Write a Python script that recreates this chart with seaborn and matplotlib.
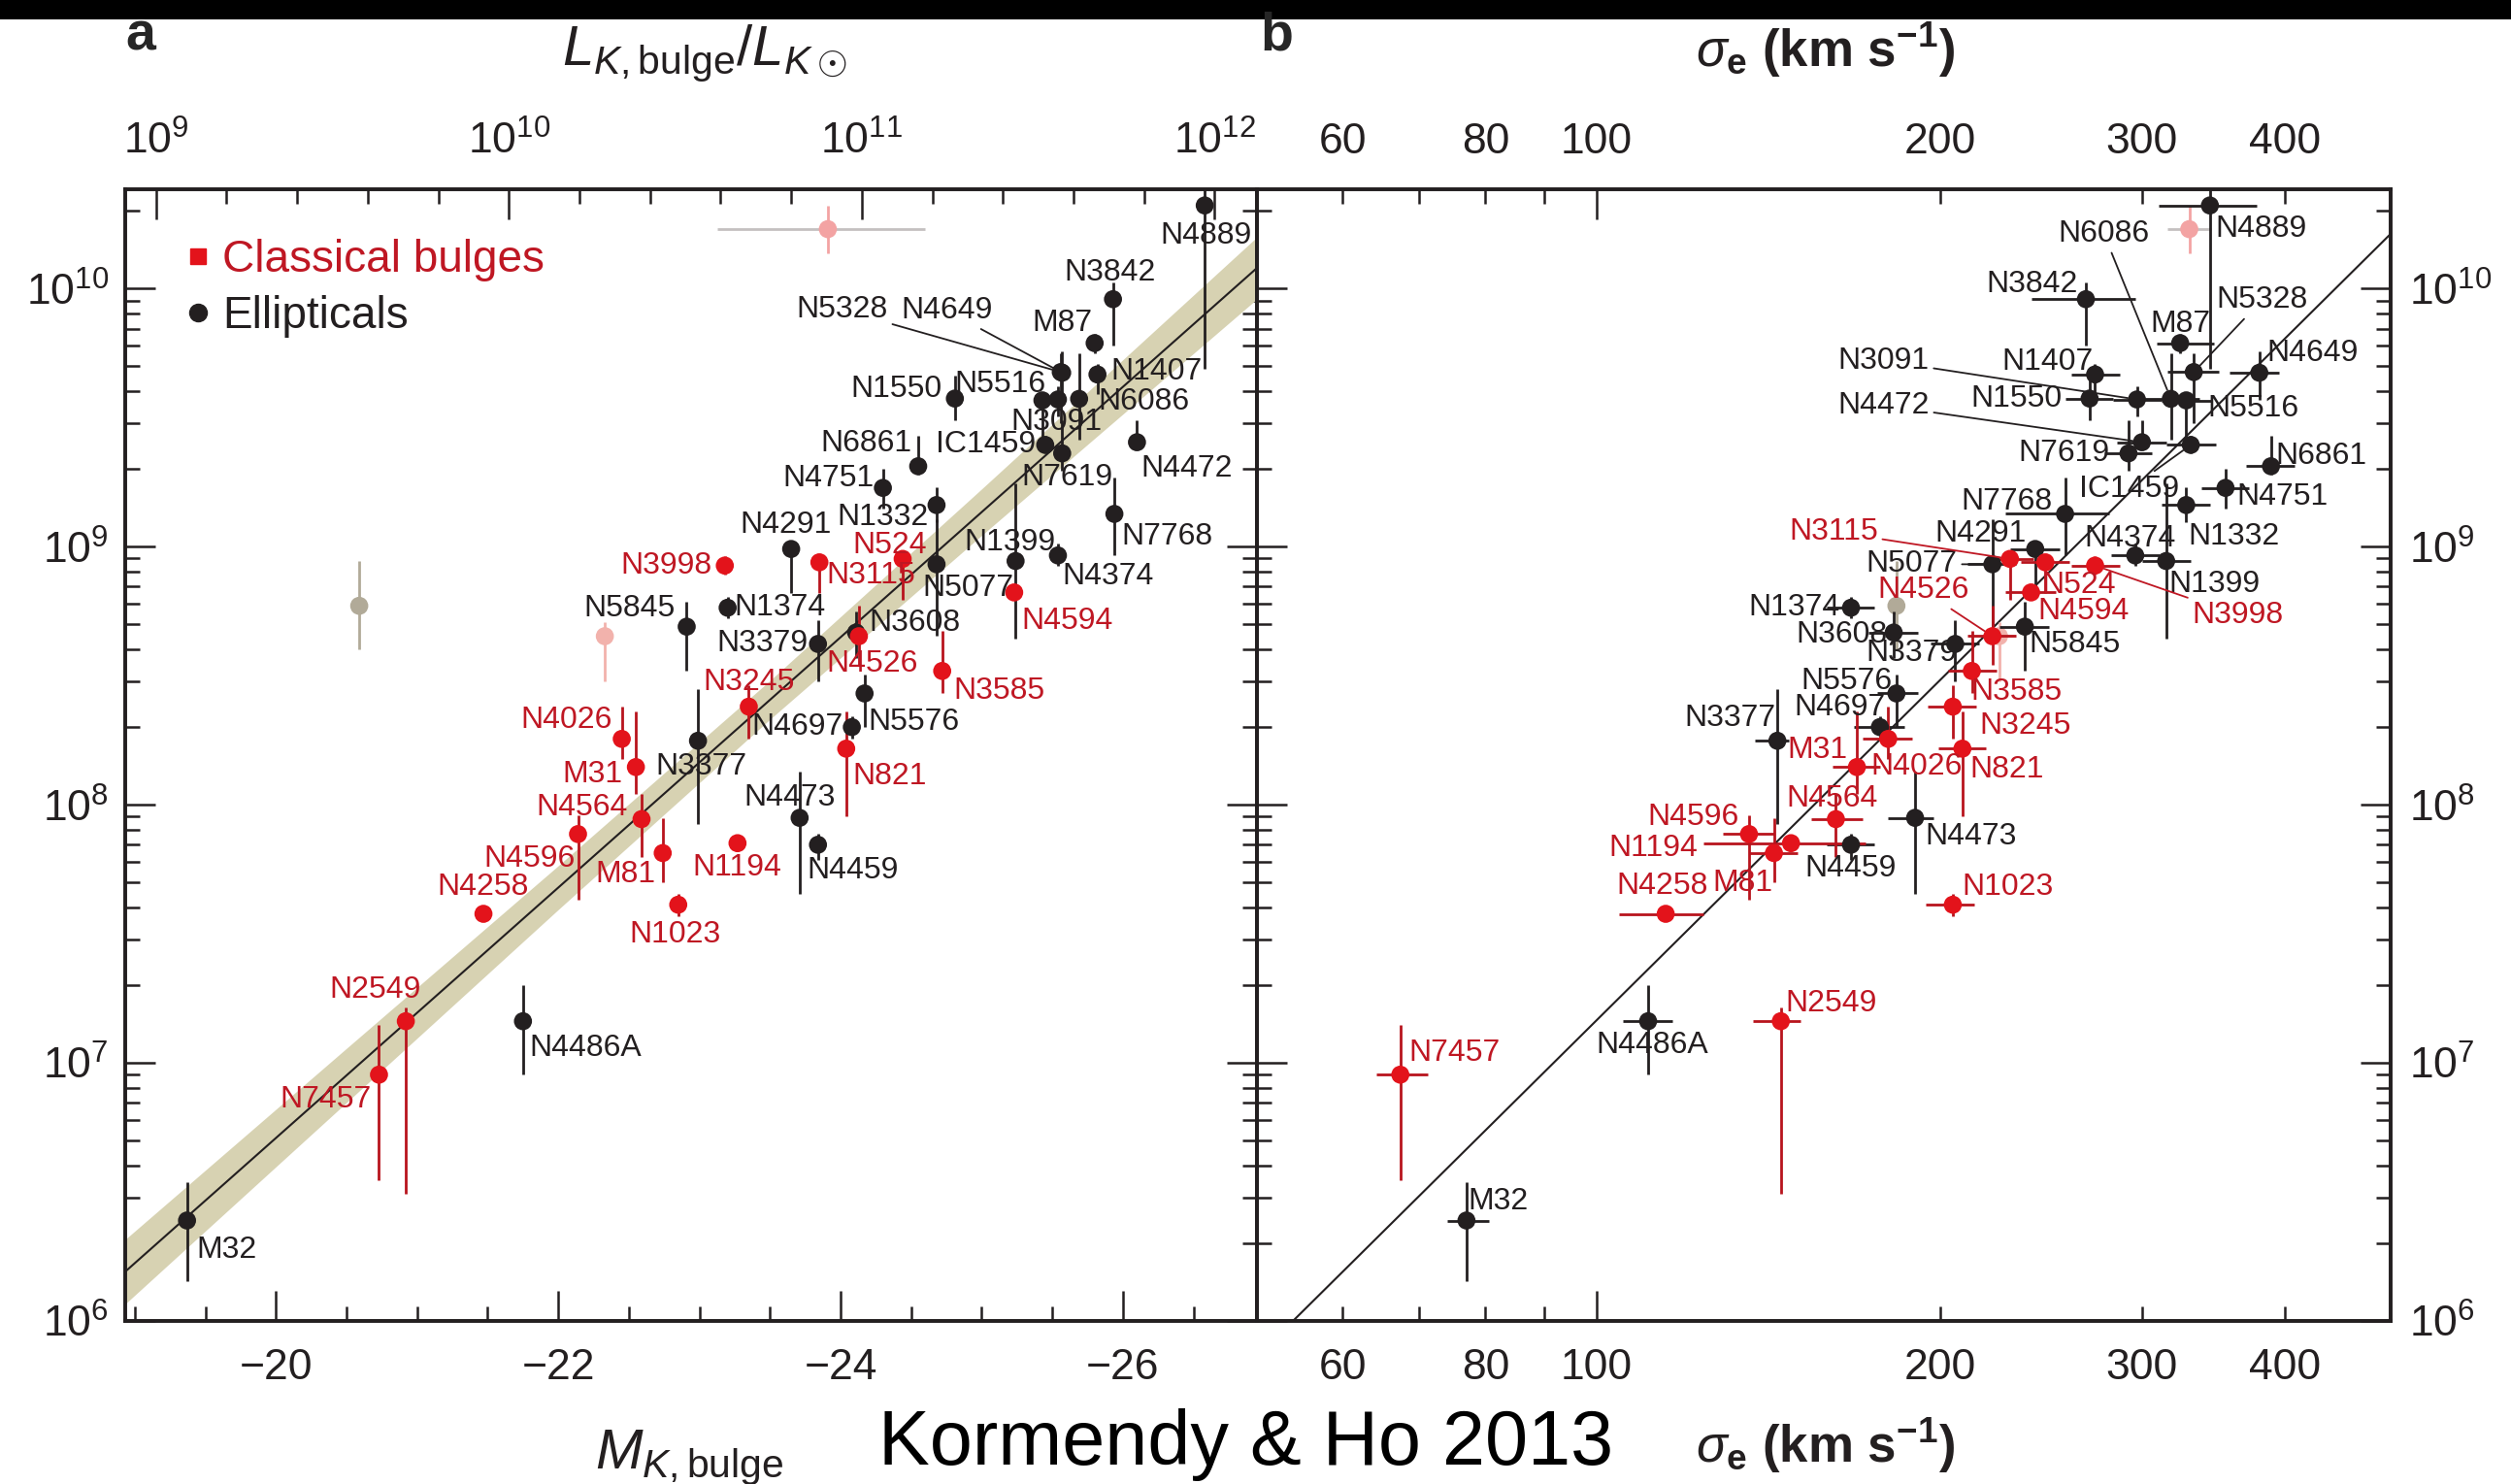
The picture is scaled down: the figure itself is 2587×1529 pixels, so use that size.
import numpy as np
import pandas as pd
import matplotlib
matplotlib.use('Agg')
import matplotlib.pyplot as plt
import seaborn as sns
from matplotlib import font_manager as fm
from matplotlib.lines import Line2D
from matplotlib.patches import Rectangle
from matplotlib.ticker import FixedLocator, FixedFormatter, NullFormatter, LogLocator

# ------------------------------------------------------------------ data
names = ['M32', 'N4486A', 'N4889', 'N3842', 'M87', 'N1407', 'N5328', 'N4649', 'N5516', 'N3091',
         'N6086', 'N7619', 'IC1459', 'N4472', 'N1550', 'N6861', 'N4751', 'N1332', 'N4291', 'N5077',
         'N1399', 'N4374', 'N7768', 'N5845', 'N1374', 'N3379', 'N3608', 'N5576', 'N4697', 'N3377',
         'N4473', 'N4459',
         'N3998', 'N524', 'N3115', 'N4594', 'N4526', 'N3245', 'N3585', 'N821', 'N4026', 'M31',
         'N4564', 'N4596', 'M81', 'N1194', 'N1023', 'N4258', 'N2549', 'N7457']
kind = ['E'] * 32 + ['C'] * 18
mk_bulge = [-19.37, -21.75, -26.58, -25.93, -25.80, -25.82, -25.56, -25.57, -25.43, -25.54,
            -25.69, -25.57, -25.45, -26.10, -24.81, -24.55, -24.30, -24.68, -23.65, -24.68,
            -25.24, -25.54, -25.94, -22.91, -23.20, -23.84, -24.11, -24.17, -24.08, -22.99,
            -23.71, -23.84,
            -23.18, -23.85, -24.44, -25.23, -24.13, -23.35, -24.72, -24.04, -22.45, -22.55,
            -22.59, -22.14, -22.74, -23.27, -22.85, -21.47, -20.92, -20.73]
sigma_e = [77, 111, 344, 268, 324, 273, 333, 380, 328, 297,
           318, 292, 331, 300, 270, 389, 355, 328, 242, 222,
           315, 296, 257, 237, 167, 206, 182, 183, 177, 144,
           190, 167,
           273, 247, 230, 240, 222, 205, 213, 209, 180, 169,
           162, 136, 143, 148, 205, 115, 145, 67.4]
sigma_lo = [74, 105.6, 310, 240, 309, 260, 316, 358, 312, 283,
            300, 278, 315, 285, 257, 370, 338, 312, 230, 211,
            300, 282, 228, 225, 159, 196, 173, 176, 168, 137.5,
            180, 159,
            260, 235, 219, 228, 211, 195, 203, 199, 171, 161,
            154, 129, 136, 124, 194, 104.6, 137, 64.2]
sigma_hi = [80.5, 116.5, 378, 296, 347, 287, 350, 395, 345, 312,
            337, 306, 348, 315, 283, 408, 372, 344, 254, 233,
            331, 311, 281, 249, 175, 216, 191, 191, 186, 147.5,
            197, 175,
            287, 259, 241, 252, 233, 215, 224, 219, 189, 177,
            171, 143, 150, 172, 214, 124, 151, 71.2]
mbh = [2.45e6, 1.45e7, 2.1e10, 9.1e9, 6.15e9, 4.65e9, 4.75e9, 4.72e9, 3.69e9, 3.72e9,
       3.74e9, 2.30e9, 2.48e9, 2.54e9, 3.75e9, 2.05e9, 1.69e9, 1.45e9, 9.8e8, 8.55e8,
       8.8e8, 9.25e8, 1.34e9, 4.9e8, 5.8e8, 4.2e8, 4.65e8, 2.7e8, 2.0e8, 1.77e8,
       8.9e7, 7.0e7,
       8.45e8, 8.7e8, 8.97e8, 6.65e8, 4.5e8, 2.4e8, 3.3e8, 1.65e8, 1.8e8, 1.4e8,
       8.8e7, 7.7e7, 6.5e7, 7.1e7, 4.1e7, 3.78e7, 1.45e7, 9.0e6]
mbh_lo = [1.43e6, 0.9e7, 4.9e9, 6.0e9, 5.6e9, 3.9e9, 3.0e9, 3.7e9, 2.65e9, 3.2e9,
          2.6e9, 1.97e9, 2.3e9, 2.4e9, 3.1e9, 1.9e9, 1.4e9, 1.25e9, 6.6e8, 4.5e8,
          4.4e8, 8.4e8, 0.93e9, 3.3e8, 5.3e8, 3.0e8, 3.7e8, 2.0e8, 1.8e8, 0.84e8,
          4.5e7, 6.1e7,
          7.8e8, 6.6e8, 6.2e8, 6.2e8, 3.5e8, 1.8e8, 2.7e8, 0.9e8, 1.5e8, 1.1e8,
          6.3e7, 4.3e7, 5.0e7, 6.8e7, 3.7e7, 3.74e7, 3.1e6, 3.5e6]
mbh_hi = [3.45e6, 2.0e7, 3.7e10, 1.06e10, 6.7e9, 5.1e9, 5.6e9, 5.7e9, 3.8e9, 4.2e9,
          5.6e9, 3.1e9, 2.7e9, 3.1e9, 4.6e9, 2.7e9, 2.0e9, 1.7e9, 1.05e9, 1.28e9,
          1.76e9, 1.03e9, 1.85e9, 6.1e8, 6.4e8, 5.2e8, 5.6e8, 3.2e8, 2.2e8, 2.8e8,
          1.35e8, 7.7e7,
          9.2e8, 9.3e8, 9.5e8, 7.1e8, 5.9e8, 2.9e8, 4.7e8, 2.3e8, 2.4e8, 2.3e8,
          1.1e8, 9.1e7, 8.9e7, 7.4e7, 4.5e7, 3.82e7, 1.64e7, 1.4e7]

# omitted (faded) objects
faded_names = ['N1277', 'N4486B', 'N4342']
faded_mk = [-23.91, -20.59, -22.33]
faded_mk_lo = [-23.13, -20.59, -22.33]
faded_mk_hi = [-24.60, -20.59, -22.33]
faded_sigma = [330, 183, 225]
faded_sigma_lo = [316, 183, 218]
faded_sigma_hi = [345, 183, 232]
faded_mbh = [1.7e10, 5.9e8, 4.5e8]
faded_mbh_lo = [1.37e10, 4.0e8, 3.0e8]
faded_mbh_hi = [2.1e10, 8.8e8, 5.1e8]

# fitted correlations
fit_a_mk = [-18.93, -26.95]
fit_a_mbh = [10 ** 6.19, 10 ** 10.08]
band_a_mk = [-18.93, -20.5, -22.0, -23.5, -25.0, -26.95]
band_a_halfwidth_dex = [0.125, 0.105, 0.085, 0.075, 0.09, 0.12]
fit_b_sigma = [54.3, 495]
fit_b_mbh = [1.0e6, 1.63e10]

# ------------------------------------------------------------------ style
sns.set_theme(style='white')
avail = {f.name for f in fm.fontManager.ttflist}
NARROW = 'Liberation Sans Narrow' if 'Liberation Sans Narrow' in avail else 'Liberation Sans'
plt.rcParams['font.family'] = [NARROW, 'DejaVu Sans']
plt.rcParams['mathtext.fontset'] = 'custom'
plt.rcParams['mathtext.rm'] = NARROW
plt.rcParams['mathtext.it'] = NARROW + ':italic'
plt.rcParams['mathtext.bf'] = NARROW + ':bold'

BLACK = '#231f20'
RED = '#e3131b'
RED_BAR = '#b8141d'
RED_TXT = '#bf1723'
BAND = '#d7d2b2'
TICKFS = 32
LBL = 23
MS = 180

df = pd.DataFrame({'name': names, 'kind': kind, 'mk': mk_bulge, 'sigma': sigma_e,
                   'sig_lo': sigma_lo, 'sig_hi': sigma_hi,
                   'mbh': mbh, 'mbh_lo': mbh_lo, 'mbh_hi': mbh_hi})
fd = pd.DataFrame({'name': faded_names, 'mk': faded_mk, 'mk_lo': faded_mk_lo, 'mk_hi': faded_mk_hi,
                   'sigma': faded_sigma, 'sig_lo': faded_sigma_lo, 'sig_hi': faded_sigma_hi,
                   'mbh': faded_mbh, 'mbh_lo': faded_mbh_lo, 'mbh_hi': faded_mbh_hi})
faded_marker = ['#f3a3a3', '#b1aa98', '#f2b2ac']
faded_bar = ['#c4c0c0', '#b1aa98', '#f2b2ac']

W, H = 2587, 1529
fig = plt.figure(figsize=(W / 100, H / 100), dpi=100)
fig.patch.set_facecolor('white')
ax_bot, ax_h = 1 - 1361 / H, (1361 - 195) / H
ax1 = fig.add_axes([128.7 / W, ax_bot, (1295 - 128.7) / W, ax_h])
ax2 = fig.add_axes([1295 / W, ax_bot, (2463 - 1295) / W, ax_h])
fig.add_artist(Rectangle((0, 1 - 20 / H), 1, 20 / H, transform=fig.transFigure,
                         facecolor='black', edgecolor='none'))

YLIM = (1e6, 10 ** 10.385)


def style(ax):
    ax.set_facecolor('white')
    for s in ax.spines.values():
        s.set_visible(True)
        s.set_linewidth(2.6)
        s.set_color(BLACK)
    ax.tick_params(which='major', direction='in', length=22, width=1.8, color=BLACK,
                   labelsize=TICKFS, labelcolor=BLACK)
    ax.tick_params(which='minor', direction='in', length=11, width=1.8, color=BLACK,
                   labelsize=TICKFS, labelcolor=BLACK)
    ax.grid(False)


def draw_points(ax, xcol, with_xerr):
    for k, mcol, bcol in [('E', BLACK, BLACK), ('C', RED, RED_BAR)]:
        sub = df[df.kind == k]
        yerr = [sub.mbh - sub.mbh_lo, sub.mbh_hi - sub.mbh]
        xerr = [sub.sigma - sub.sig_lo, sub.sig_hi - sub.sigma] if with_xerr else None
        ax.errorbar(sub[xcol], sub.mbh, yerr=yerr, xerr=xerr, fmt='none', ecolor=bcol,
                    elinewidth=2.0, capsize=0, zorder=3)
    sns.scatterplot(data=df, x=xcol, y='mbh', hue='kind', palette={'E': BLACK, 'C': RED},
                    s=MS, edgecolor='none', linewidth=0, legend=False, ax=ax, zorder=4)


def draw_faded(ax, panel):
    for i in range(len(fd)):
        r = fd.iloc[i]
        y, ylo, yhi = r.mbh, r.mbh_lo, r.mbh_hi
        if panel == 'a':
            x = r.mk
            xe = [[abs(r.mk_hi - r.mk)], [abs(r.mk - r.mk_lo)]]
        else:
            x, xe = r.sigma, [[r.sigma - r.sig_lo], [r.sig_hi - r.sigma]]
        ax.errorbar([x], [y], xerr=xe, fmt='none', ecolor=faded_bar[i], elinewidth=2.0, zorder=2)
        ax.errorbar([x], [y], yerr=[[y - ylo], [yhi - y]], fmt='none', ecolor=faded_marker[i],
                    elinewidth=2.0, zorder=2)
        ax.scatter([x], [y], s=MS, color=faded_marker[i], edgecolor='none', zorder=2.5)


def annotate(ax, xcol, offsets, leaders):
    for i, nm in enumerate(names):
        dx, dy, ha = offsets[nm]
        col = RED_TXT if kind[i] == 'C' else BLACK
        kw = {}
        if nm in leaders:
            kw['arrowprops'] = dict(arrowstyle='-', color=col, lw=1.3, shrinkA=1, shrinkB=7)
        ax.annotate(nm, (df[xcol].iloc[i], mbh[i]), xytext=(dx, dy), textcoords='offset pixels',
                    ha=ha, va='center', fontsize=LBL, color=col, zorder=6, **kw)


# ------------------------------------------------------------------ panel a
style(ax1)
ax1.set_yscale('log')
mk_grid = np.linspace(fit_a_mk[0], fit_a_mk[1], 200)
fit_line = np.interp(mk_grid, fit_a_mk[::-1], np.log10(fit_a_mbh)[::-1])
hw = np.interp(mk_grid, band_a_mk[::-1], band_a_halfwidth_dex[::-1])
ax1.fill_between(mk_grid, 10 ** (fit_line - hw), 10 ** (fit_line + hw), color=BAND, lw=0, zorder=1)
sns.lineplot(x=fit_a_mk, y=fit_a_mbh, color=BLACK, lw=1.5, ax=ax1, zorder=2)
draw_faded(ax1, 'a')
draw_points(ax1, 'mk', False)

off_a = {
    'M32': (10, -30, 'left'), 'N4486A': (7, -28, 'left'), 'N4889': (1, -31, 'center'),
    'N3842': (-3, 27, 'center'), 'M87': (-2, 21, 'right'), 'N1407': (14, 3, 'left'),
    'N5328': (-178, 64, 'right'), 'N4649': (-166, 64, 'left'), 'N5516': (4, 17, 'right'),
    'N3091': (-49, -23, 'left'), 'N6086': (20, -3, 'left'), 'N7619': (-42, -25, 'left'),
    'IC1459': (-10, 0, 'right'), 'N4472': (4, -27, 'left'), 'N1550': (-13, 10, 'right'),
    'N6861': (-6, 23, 'right'), 'N4751': (-9, 10, 'right'), 'N1332': (-8, -13, 'right'),
    'N4291': (-6, 25, 'center'), 'N5077': (-15, -25, 'left'), 'N1399': (-6, 19, 'center'),
    'N4374': (4, -22, 'left'), 'N7768': (7, -24, 'left'), 'N5845': (-12, 19, 'right'),
    'N1374': (7, 0, 'left'), 'N3379': (-10, 0, 'right'), 'N3608': (13, 10, 'left'),
    'N5576': (4, -30, 'left'), 'N4697': (-9, 0, 'right'), 'N3377': (-44, -27, 'left'),
    'N4473': (-10, 21, 'center'), 'N4459': (-11, -27, 'left'),
    'N3998': (-13, 0, 'right'), 'N524': (34, 17, 'left'), 'N3115': (-79, -17, 'left'),
    'N4594': (8, -30, 'left'), 'N4526': (-34, -29, 'left'), 'N3245': (0, 25, 'center'),
    'N3585': (12, -21, 'left'), 'N821': (7, -29, 'left'), 'N4026': (-10, 19, 'right'),
    'M31': (-14, -8, 'right'), 'N4564': (-14, 12, 'right'), 'N4596': (-3, -26, 'right'),
    'M81': (-7, -22, 'right'), 'N1194': (-1, -25, 'center'), 'N1023': (-3, -31, 'center'),
    'N4258': (-1, 28, 'center'), 'N2549': (-32, 32, 'center'), 'N7457': (-8, -26, 'right'),
}
annotate(ax1, 'mk', off_a, {'N5328', 'N4649'})

ax1.set_xlim(-18.93, -26.95)
ax1.set_ylim(*YLIM)
ax1.set_xlabel('')
ax1.set_ylabel('')
ax1.xaxis.set_major_locator(FixedLocator([-20, -22, -24, -26]))
ax1.xaxis.set_major_formatter(FixedFormatter(['\u221220', '\u221222', '\u221224', '\u221226']))
ax1.xaxis.set_minor_locator(FixedLocator([-19, -19.5, -20.5, -21, -21.5, -22.5, -23, -23.5,
                                          -24.5, -25, -25.5, -26.5]))
ax1.yaxis.set_major_locator(LogLocator(base=10, numticks=10))
ax1.yaxis.set_minor_locator(LogLocator(base=10, subs=np.arange(2, 10), numticks=20))
ax1.yaxis.set_minor_formatter(NullFormatter())
ax1.tick_params(axis='y', which='both', left=True, right=True, labelleft=True, labelright=False, pad=12)
ax1.tick_params(axis='x', which='both', bottom=True, top=False, pad=20)

M_SUN = 3.35
ax1t = ax1.twiny()
style(ax1t)
ax1t.set_xlim(ax1.get_xlim())
ax1t.xaxis.set_major_locator(FixedLocator([M_SUN - 2.5 * p for p in [9, 10, 11, 12]]))
ax1t.xaxis.set_major_formatter(FixedFormatter([r'$10^{9}$', r'$10^{10}$', r'$10^{11}$', r'$10^{12}$']))
ax1t.xaxis.set_minor_locator(FixedLocator([M_SUN - 2.5 * (9 + 0.2 * k) for k in range(1, 15) if k % 5]))
ax1t.tick_params(axis='x', which='both', top=True, bottom=False, labeltop=True, pad=20)

ax1.legend(handles=[Line2D([], [], marker='s', color=RED, ls='none', ms=12),
                    Line2D([], [], marker='o', color=BLACK, ls='none', ms=13)],
           labels=['Classical bulges', 'Ellipticals'], loc='upper left',
           bbox_to_anchor=(0.053, 0.956), frameon=False, fontsize=33, handletextpad=0.25,
           labelspacing=0.3, handlelength=0.6, borderaxespad=0, borderpad=0,
           labelcolor=[RED_TXT, BLACK])

# ------------------------------------------------------------------ panel b
style(ax2)
ax2.set_xscale('log')
ax2.set_yscale('log')
sns.lineplot(x=fit_b_sigma, y=fit_b_mbh, color=BLACK, lw=1.5, ax=ax2, zorder=2)
draw_faded(ax2, 'b')
draw_points(ax2, 'sigma', True)

off_b = {
    'N4889': (6, -24, 'left'), 'N6086': (-69, 170, 'center'), 'N3842': (-8, 15, 'right'),
    'M87': (0, 20, 'center'), 'N5328': (23, 74, 'left'), 'N4649': (8, 20, 'left'),
    'N5516': (22, -8, 'left'), 'N1407': (-2, 13, 'right'), 'N3091': (-214, 40, 'right'),
    'N4472': (-219, 38, 'right'), 'N1550': (-28, 0, 'right'), 'N7619': (-19, 0, 'right'),
    'IC1459': (-64, -46, 'center'), 'N6861': (5, 10, 'left'), 'N4751': (11, -9, 'left'),
    'N1332': (2, -33, 'left'), 'N7768': (-13, 12, 'right'), 'N4374': (-5, 17, 'center'),
    'N1399': (3, -24, 'left'), 'N4291': (-56, 16, 'center'), 'N5845': (4, -18, 'left'),
    'N5077': (-36, 0, 'right'), 'N1374': (-11, 0, 'right'), 'N3608': (-7, -2, 'right'),
    'N3379': (-45, -10, 'center'), 'N5576': (-4, 12, 'right'), 'N4697': (6, 20, 'right'),
    'N3377': (-2, 23, 'right'), 'N4459': (0, -25, 'center'), 'N4473': (10, -19, 'left'),
    'N4486A': (4, -25, 'center'), 'M32': (2, 20, 'left'),
    'N3998': (100, -51, 'left'), 'N524': (-4, -24, 'left'), 'N4594': (7, -20, 'left'),
    'N3115': (-136, 28, 'right'), 'N4526': (-24, 47, 'right'), 'N3585': (-1, -22, 'left'),
    'N3245': (27, -20, 'left'), 'M31': (-10, 17, 'right'), 'N4026': (-18, -29, 'left'),
    'N821': (8, -22, 'left'), 'N4564': (-4, 21, 'center'), 'N4596': (-10, 17, 'right'),
    'N1194': (-96, -5, 'right'), 'M81': (-1, -31, 'right'), 'N1023': (9, 18, 'left'),
    'N4258': (-4, 29, 'center'), 'N2549': (5, 18, 'left'), 'N7457': (9, 22, 'left'),
}
annotate(ax2, 'sigma', off_b, {'N6086', 'N5328', 'N3091', 'N4472', 'IC1459', 'N3998',
                               'N5077', 'N3115', 'N4526'})

SIG_LIM = (50.5, 495)
ax2.set_xlim(*SIG_LIM)
ax2.set_ylim(*YLIM)
ax2.set_xlabel('')
ax2.set_ylabel('')


def sigma_ticks(ax):
    ax.xaxis.set_major_locator(FixedLocator([100]))
    ax.xaxis.set_major_formatter(FixedFormatter(['100']))
    ax.xaxis.set_minor_locator(FixedLocator([60, 70, 80, 90, 200, 300, 400]))
    ax.xaxis.set_minor_formatter(FixedFormatter(['60', '', '80', '', '200', '300', '400']))


sigma_ticks(ax2)
ax2.yaxis.set_major_locator(LogLocator(base=10, numticks=10))
ax2.yaxis.set_minor_locator(LogLocator(base=10, subs=np.arange(2, 10), numticks=20))
ax2.yaxis.set_minor_formatter(NullFormatter())
ax2.tick_params(axis='y', which='both', left=True, right=True, labelleft=False, labelright=True, pad=14)
ax2.tick_params(axis='x', which='both', bottom=True, top=False, pad=20)

ax2t = ax2.twiny()
style(ax2t)
ax2t.set_xscale('log')
ax2t.set_xlim(*SIG_LIM)
sigma_ticks(ax2t)
ax2t.tick_params(axis='x', which='both', top=True, bottom=False, labeltop=True, pad=20)

# ------------------------------------------------------------------ figure texts
fig.text(145 / W, 1 - 38 / H, 'a', fontsize=40, fontweight='bold', ha='center', va='center',
         family=['Liberation Sans', 'DejaVu Sans'])
fig.text(1315 / W, 1 - 38 / H, 'b', fontsize=40, fontweight='bold', ha='center', va='center',
         family=['Liberation Sans', 'DejaVu Sans'])
fig.text(726 / W, 1 - 55 / H, r'$L_{K,\mathrm{bulge}}/L_{K\odot}$', fontsize=42, ha='center',
         va='center', color=BLACK)
sig_label = r'$\sigma_\mathbf{e}$ (km s$^\mathbf{-1}$)'
fig.text(1881 / W, 1 - 52 / H, sig_label, fontsize=38, fontweight='bold', ha='center',
         va='center', color=BLACK)
fig.text(1881 / W, 1 - 1490 / H, sig_label, fontsize=38, fontweight='bold', ha='center',
         va='center', color=BLACK)
fig.text(710 / W, 1 - 1502 / H, r'$M_{K,\mathrm{bulge}}$', fontsize=42, ha='center',
         va='center', color=BLACK)
fig.text(1284 / W, 1 - 1488 / H, 'Kormendy & Ho 2013', fontsize=57, ha='center', va='center',
         color='black', family=['Liberation Sans', 'DejaVu Sans'])

fig.savefig('out.png', dpi=100, facecolor='white')
